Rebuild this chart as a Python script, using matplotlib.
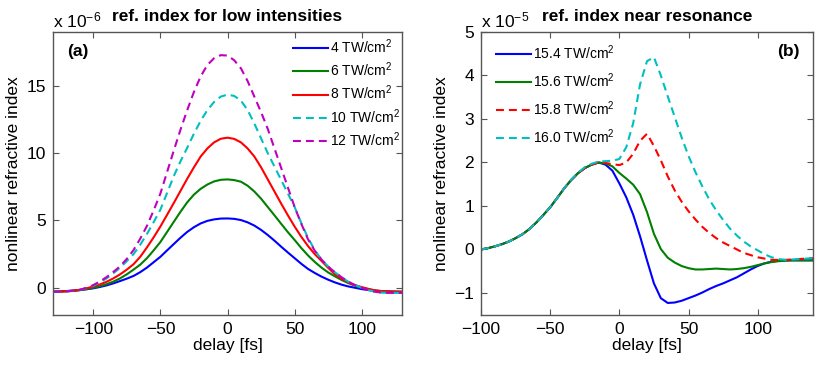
import matplotlib
matplotlib.use("Agg")
import matplotlib.pyplot as plt

plt.rcParams['font.family'] = ['Liberation Sans', 'DejaVu Sans']
plt.rcParams['mathtext.fontset'] = 'custom'
plt.rcParams['mathtext.rm'] = 'Liberation Sans'
plt.rcParams['mathtext.it'] = 'Liberation Sans:italic'
plt.rcParams['mathtext.bf'] = 'Liberation Sans:bold'

# ---------------- panel (a): low intensities (units of 1e-6) ----------------
delay_a = [-130, -125, -120, -115, -110, -105, -100, -95, -90, -85, -80, -75, -70, -65, -60, -55,
           -50, -45, -40, -35, -30, -25, -20, -15, -10, -5, 0, 5, 10, 15, 20, 25, 30, 35, 40, 45,
           50, 55, 60, 65, 70, 75, 80, 85, 90, 95, 100, 105, 110, 115, 120, 125, 130]
n_4 = [-0.28, -0.27, -0.24, -0.21, -0.17, -0.11, -0.04, 0.06, 0.18, 0.33, 0.50, 0.68, 0.88, 1.16,
       1.50, 1.90, 2.30, 2.78, 3.25, 3.72, 4.15, 4.50, 4.78, 4.97, 5.08, 5.14, 5.15, 5.12, 5.03,
       4.86, 4.62, 4.30, 3.92, 3.50, 3.05, 2.62, 2.20, 1.78, 1.40, 1.10, 0.83, 0.60, 0.40, 0.23,
       0.10, 0.00, -0.10, -0.17, -0.22, -0.25, -0.27, -0.29, -0.30]
n_6 = [-0.29, -0.28, -0.26, -0.23, -0.18, -0.10, 0.00, 0.12, 0.27, 0.46, 0.70, 1.00, 1.35, 1.72,
       2.20, 2.78, 3.40, 4.15, 4.90, 5.65, 6.35, 6.92, 7.35, 7.67, 7.90, 8.02, 8.05, 8.00, 7.88,
       7.58, 7.15, 6.62, 6.00, 5.38, 4.75, 4.13, 3.55, 2.95, 2.40, 1.92, 1.50, 1.14, 0.85, 0.58,
       0.35, 0.15, 0.00, -0.11, -0.20, -0.25, -0.28, -0.29, -0.30]
n_8 = [-0.30, -0.28, -0.26, -0.21, -0.15, -0.04, 0.10, 0.25, 0.45, 0.70, 1.00, 1.35, 1.75, 2.30,
       3.00, 3.75, 4.55, 5.42, 6.30, 7.20, 8.10, 8.95, 9.75, 10.35, 10.80, 11.07, 11.15, 11.06,
       10.80, 10.35, 9.75, 8.95, 8.05, 7.15, 6.25, 5.38, 4.55, 3.78, 3.10, 2.50, 2.00, 1.48, 1.00,
       0.67, 0.40, 0.20, 0.05, -0.08, -0.20, -0.25, -0.28, -0.29, -0.30]
n_10 = [-0.30, -0.29, -0.27, -0.22, -0.15, -0.02, 0.15, 0.40, 0.70, 1.08, 1.50, 1.98, 2.50, 3.20,
        4.00, 4.88, 5.80, 7.05, 8.30, 9.40, 10.40, 11.45, 12.40, 13.20, 13.80, 14.20, 14.35, 14.25,
        13.90, 13.20, 12.20, 11.10, 10.00, 9.00, 8.00, 7.00, 6.00, 4.80, 3.70, 2.80, 2.10, 1.58,
        1.15, 0.78, 0.45, 0.20, 0.00, -0.17, -0.30, -0.36, -0.38, -0.38, -0.38]
n_12 = [-0.30, -0.29, -0.27, -0.22, -0.15, 0.00, 0.20, 0.47, 0.80, 1.18, 1.60, 2.15, 2.80, 3.65,
        4.60, 5.75, 7.00, 8.60, 10.20, 11.75, 13.20, 14.55, 15.70, 16.55, 17.05, 17.28, 17.25,
        16.90, 16.30, 15.35, 14.20, 13.05, 11.80, 10.35, 8.90, 7.45, 6.00, 4.75, 3.60, 2.75, 2.10,
        1.58, 1.15, 0.78, 0.45, 0.20, 0.00, -0.17, -0.30, -0.36, -0.38, -0.38, -0.38]
labels_a = ['4 TW/cm$^2$', '6 TW/cm$^2$', '8 TW/cm$^2$', '10 TW/cm$^2$', '12 TW/cm$^2$']

# ---------------- panel (b): near resonance (units of 1e-5) ----------------
delay_b = [-100, -95, -90, -85, -80, -75, -70, -65, -60, -55, -50, -45, -40, -35, -30, -25, -20,
           -15, -10, -5, 0, 5, 10, 15, 20, 25, 30, 35, 40, 45, 50, 55, 60, 65, 70, 75, 80, 85, 90,
           95, 100, 105, 110, 115, 120, 125, 130, 135, 140]
n_154 = [0.00, 0.03, 0.07, 0.12, 0.18, 0.26, 0.35, 0.47, 0.62, 0.79, 0.97, 1.18, 1.40, 1.59, 1.75,
         1.87, 1.95, 2.00, 1.95, 1.81, 1.52, 1.20, 0.80, 0.30, -0.25, -0.78, -1.12, -1.23, -1.22,
         -1.18, -1.12, -1.06, -0.99, -0.91, -0.84, -0.78, -0.71, -0.64, -0.55, -0.46, -0.38, -0.32,
         -0.28, -0.26, -0.25, -0.25, -0.25, -0.25, -0.25]
n_156 = [0.00, 0.03, 0.07, 0.12, 0.18, 0.26, 0.35, 0.47, 0.62, 0.79, 0.97, 1.18, 1.40, 1.59, 1.75,
         1.87, 1.95, 2.00, 1.98, 1.91, 1.76, 1.63, 1.49, 1.27, 0.86, 0.36, 0.01, -0.19, -0.30,
         -0.38, -0.43, -0.46, -0.46, -0.45, -0.44, -0.45, -0.46, -0.45, -0.43, -0.40, -0.36,
         -0.32, -0.29, -0.27, -0.26, -0.25, -0.25, -0.25, -0.25]
n_158 = [0.00, 0.03, 0.07, 0.12, 0.18, 0.26, 0.35, 0.47, 0.62, 0.79, 0.97, 1.18, 1.40, 1.59, 1.75,
         1.87, 1.95, 2.00, 1.99, 1.96, 1.94, 2.00, 2.20, 2.50, 2.66, 2.38, 2.05, 1.68, 1.36, 1.10,
         0.88, 0.69, 0.52, 0.38, 0.26, 0.16, 0.08, 0.00, -0.08, -0.13, -0.18, -0.21, -0.24, -0.24,
         -0.24, -0.23, -0.22, -0.21, -0.20]
n_160 = [0.00, 0.03, 0.07, 0.12, 0.18, 0.26, 0.35, 0.47, 0.62, 0.79, 0.97, 1.18, 1.40, 1.60, 1.76,
         1.89, 1.97, 2.02, 2.03, 2.04, 2.08, 2.35, 2.90, 3.80, 4.33, 4.42, 4.00, 3.52, 3.05, 2.58,
         2.15, 1.78, 1.45, 1.15, 0.90, 0.68, 0.48, 0.32, 0.18, 0.07, -0.02, -0.11, -0.18, -0.22,
         -0.24, -0.23, -0.22, -0.21, -0.20]
labels_b = ['15.4 TW/cm$^2$', '15.6 TW/cm$^2$', '15.8 TW/cm$^2$', '16.0 TW/cm$^2$']

c_blue = (0, 0, 1)
c_green = (0, 0.5, 0)
c_red = (1, 0, 0)
c_cyan = (0, 0.75, 0.75)
c_mag = (0.75, 0, 0.75)
DASH = (3.8, 2.4)
LW = 1.5
FS = 12.5

fig = plt.figure(figsize=(8.3, 3.66), dpi=100)
ax1 = fig.add_axes([53/830, 1-314.7/366, (402-53)/830, (314.7-32)/366])
ax2 = fig.add_axes([481/830, 1-314.7/366, (813-481)/830, (314.7-32)/366])

def style(ax):
    for s in ax.spines.values():
        s.set_color('#555555')
        s.set_linewidth(1.0)
    ax.tick_params(direction='in', top=True, right=True, length=4, width=0.8,
                   color='#555555', labelsize=FS, pad=5)

# panel a
series_a = [n_4, n_6, n_8, n_10, n_12]
colors_a = [c_blue, c_green, c_red, c_cyan, c_mag]
for i, (y, c, lab) in enumerate(zip(series_a, colors_a, labels_a)):
    if i < 3:
        ax1.plot(delay_a, y, color=c, lw=LW, label=lab)
    else:
        ax1.plot(delay_a, y, color=c, lw=LW, ls='--', dashes=DASH, label=lab)
ax1.set_xlim(-130, 130)
ax1.set_ylim(-2, 19)
ax1.set_xticks([-100, -50, 0, 50, 100])
ax1.set_yticks([0, 5, 10, 15])
ax1.set_xlabel('delay [fs]', fontsize=FS, labelpad=1)
ax1.set_ylabel('nonlinear refractive index', fontsize=FS, labelpad=4)
ax1.set_title('ref. index for low intensities', fontsize=FS, fontweight='bold', pad=8)
ax1.text(0.0, 1.005, 'x 10$^{-6}$', transform=ax1.transAxes, fontsize=FS, ha='left', va='bottom')
ax1.text(0.04, 0.93, '(a)', transform=ax1.transAxes, fontsize=FS, fontweight='bold', ha='left', va='center')
style(ax1)
ax1.legend(loc='upper right', frameon=False, fontsize=10, handlelength=2.5, handletextpad=0.2,
           labelspacing=0.33, borderaxespad=0.2, bbox_to_anchor=(1.02, 1.01))

# panel b
series_b = [n_154, n_156, n_158, n_160]
colors_b = [c_blue, c_green, c_red, c_cyan]
for i, (y, c, lab) in enumerate(zip(series_b, colors_b, labels_b)):
    if i < 2:
        ax2.plot(delay_b, y, color=c, lw=LW, label=lab)
    else:
        ax2.plot(delay_b, y, color=c, lw=LW, ls='--', dashes=DASH, label=lab)
ax2.set_xlim(-100, 140)
ax2.set_ylim(-1.5, 5)
ax2.set_xticks([-100, -50, 0, 50, 100])
ax2.set_yticks([-1, 0, 1, 2, 3, 4, 5])
ax2.set_xlabel('delay [fs]', fontsize=FS, labelpad=1)
ax2.set_ylabel('nonlinear refractive index', fontsize=FS, labelpad=4)
ax2.set_title('ref. index near resonance', fontsize=FS, fontweight='bold', pad=8)
ax2.text(0.0, 1.005, 'x 10$^{-5}$', transform=ax2.transAxes, fontsize=FS, ha='left', va='bottom')
ax2.text(0.96, 0.93, '(b)', transform=ax2.transAxes, fontsize=FS, fontweight='bold', ha='right', va='center')
style(ax2)
ax2.legend(loc='upper left', frameon=False, fontsize=10, handlelength=2.5, handletextpad=0.2,
           labelspacing=0.68, borderaxespad=0.2, bbox_to_anchor=(0.02, 0.99))

fig.savefig('out.png', dpi=100)
